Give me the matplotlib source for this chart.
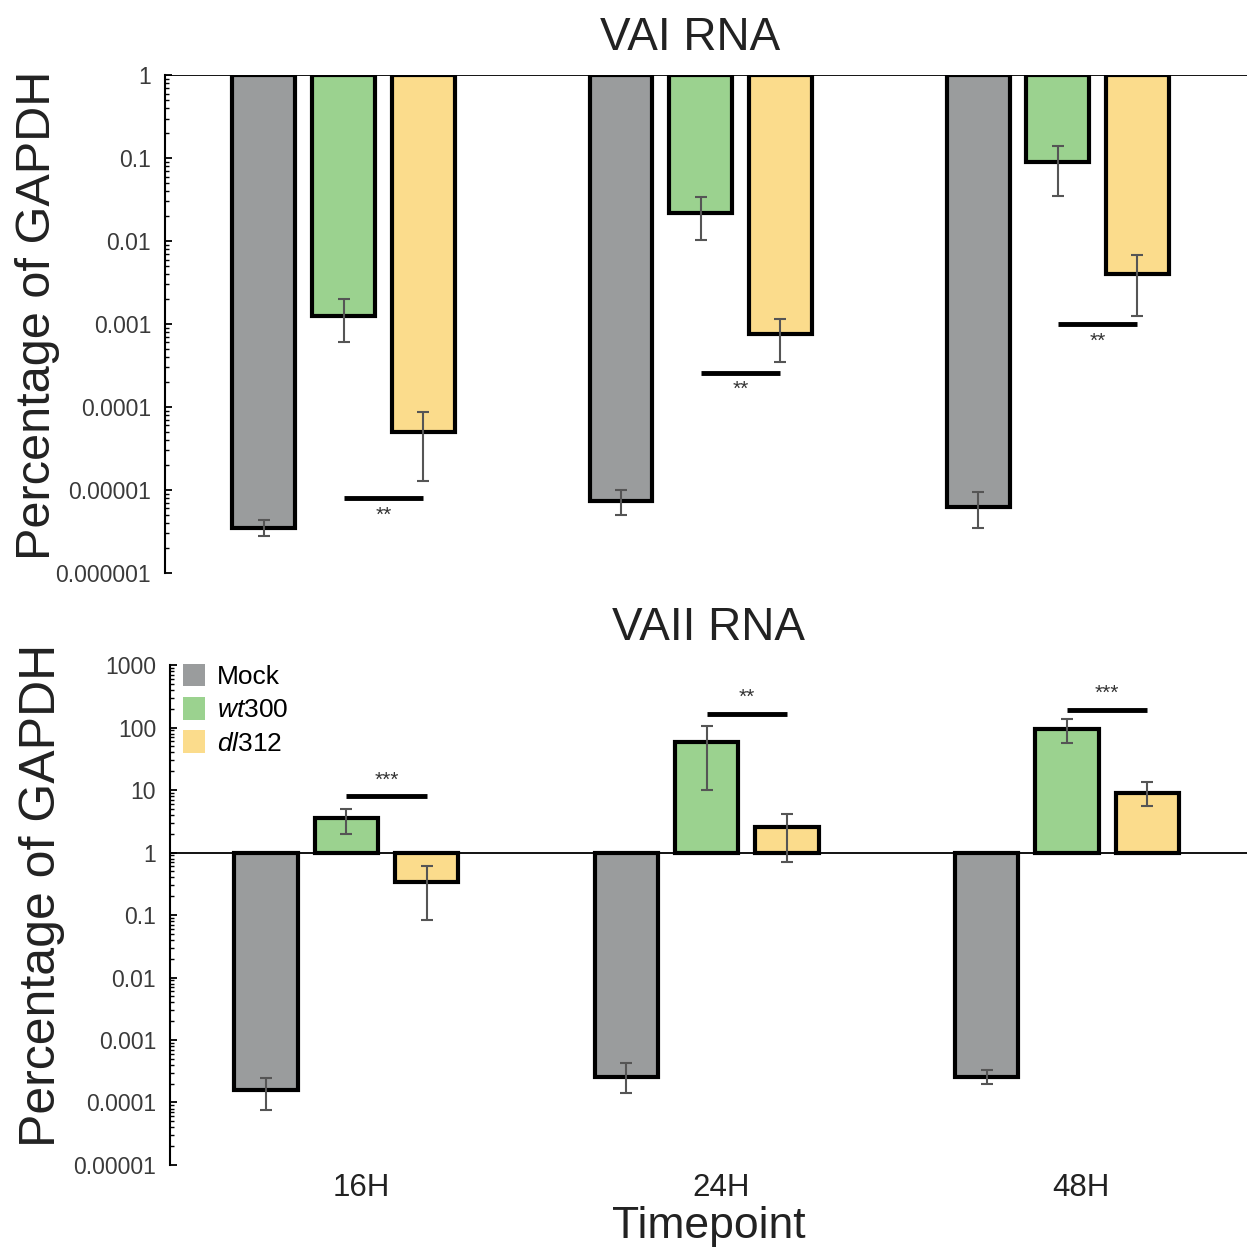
import matplotlib
matplotlib.use("Agg")
import matplotlib.pyplot as plt
from matplotlib.patches import Patch
import matplotlib.ticker as mticker
import numpy as np

plt.rcParams['font.family'] = ['Liberation Sans', 'DejaVu Sans']
plt.rcParams['mathtext.fontset'] = 'custom'
plt.rcParams['mathtext.rm'] = 'Liberation Sans'
plt.rcParams['mathtext.it'] = 'Liberation Sans:italic'

timepoints = ["16H", "24H", "48H"]
groups = ["Mock", "wt300", "dl312"]
legend_labels = ["Mock", r"$\it{wt}$300", r"$\it{dl}$312"]
colors = ["#9a9c9d", "#9bd28f", "#fbdc8c"]

# VAI RNA (percentage of GAPDH), error bar ends as low / high values
vai_mean = {"Mock": [3.5e-6, 7.4e-6, 6.3e-6],
            "wt300": [1.26e-3, 0.022, 0.089],
            "dl312": [5e-5, 7.6e-4, 0.004]}
vai_lo = {"Mock": [2.8e-6, 5e-6, 3.5e-6],
          "wt300": [6e-4, 0.0102, 0.035],
          "dl312": [1.3e-5, 3.5e-4, 0.00126]}
vai_hi = {"Mock": [4.3e-6, 1e-5, 9.5e-6],
          "wt300": [2e-3, 0.034, 0.14],
          "dl312": [8.7e-5, 1.15e-3, 0.0068]}
vai_sig = [8e-6, 2.6e-4, 1e-3]
vai_stars = ["**", "**", "**"]

# VAII RNA
vaii_mean = {"Mock": [1.6e-4, 2.6e-4, 2.6e-4],
             "wt300": [3.6, 59, 95],
             "dl312": [0.34, 2.6, 8.9]}
vaii_lo = {"Mock": [7.6e-5, 1.4e-4, 2e-4],
           "wt300": [2.0, 10, 57],
           "dl312": [0.083, 0.7, 5.5]}
vaii_hi = {"Mock": [2.5e-4, 4.3e-4, 3.3e-4],
           "wt300": [5.0, 105, 138],
           "dl312": [0.6, 4.2, 13.5]}
vaii_sig = [7.9, 166, 190]
vaii_stars = ["***", "**", "***"]

offsets = [-0.223, 0.0, 0.223]
width = 0.176
x = np.arange(len(timepoints))
tick_color = "#3a3a3a"
text_color = "#222222"


def draw_panel(ax, mean, lo, hi, sig, stars, ylim, ytick_labels, stars_above):
    ax.set_yscale('log')
    for g, off, c in zip(groups, offsets, colors):
        m = np.array(mean[g])
        ax.bar(x + off, m - 1, bottom=1, width=width, color=c,
               edgecolor='black', linewidth=3, zorder=2)
        yerr = [m - np.array(lo[g]), np.array(hi[g]) - m]
        ax.errorbar(x + off, m, yerr=yerr, fmt='none', ecolor='#555555',
                    elinewidth=1.5, capsize=4, capthick=1.5, zorder=3)
    ax.axhline(1, color='black', linewidth=1.3, zorder=1)
    for i, (s, st) in enumerate(zip(sig, stars)):
        x0, x1 = x[i] + offsets[1], x[i] + offsets[2]
        ax.plot([x0, x1], [s, s], color='black', linewidth=3.5,
                solid_capstyle='butt', zorder=4)
        dy = 5 if stars_above else -19
        ax.annotate(st, xy=((x0 + x1) / 2, s), xytext=(0, dy),
                    textcoords='offset points', ha='center', va='bottom',
                    fontsize=15, color='#333333')
    ax.set_ylim(*ylim)
    ticks = [float(t) for t in ytick_labels]
    ax.set_yticks(ticks)
    ax.set_yticklabels(ytick_labels)
    ax.yaxis.set_minor_locator(mticker.LogLocator(base=10, subs=np.arange(2, 10)))
    ax.yaxis.set_minor_formatter(mticker.NullFormatter())
    ax.tick_params(axis='y', which='major', direction='in', length=5, width=1.3,
                   labelsize=16.5, labelcolor=tick_color, pad=10)
    ax.tick_params(axis='y', which='minor', direction='in', length=3, width=1)
    for sp in ['top', 'right', 'bottom']:
        ax.spines[sp].set_visible(False)
    ax.spines['left'].set_linewidth(1.5)


fig = plt.figure(figsize=(12.47, 12.52), dpi=100)
ax1 = fig.add_axes([0.1323, 0.5423, 0.8677, 0.3977])
ax2 = fig.add_axes([0.1363, 0.0695, 0.8637, 0.3993])

draw_panel(ax1, vai_mean, vai_lo, vai_hi, vai_sig, vai_stars, (1e-6, 1),
           ["1", "0.1", "0.01", "0.001", "0.0001", "0.00001", "0.000001"], False)
ax1.set_xlim(-0.5, 2.53)
ax1.set_xticks([])
ax1.set_title("VAI RNA", fontsize=33, color=text_color, pad=18, x=0.485)
ax1.set_ylabel("Percentage of GAPDH", fontsize=35, color=text_color)
ax1.yaxis.set_label_coords(-0.097, 0.518)

draw_panel(ax2, vaii_mean, vaii_lo, vaii_hi, vaii_sig, vaii_stars, (1e-5, 1000),
           ["1000", "100", "10", "1", "0.1", "0.01", "0.001", "0.0001", "0.00001"], True)
ax2.set_xlim(-0.49, 2.5)
ax2.set_xticks(x + 0.04)
ax2.set_xticklabels(timepoints)
ax2.tick_params(axis='x', length=0, labelsize=22.5, labelcolor=text_color, pad=6)
ax2.set_xlabel("Timepoint", fontsize=32, color=text_color, labelpad=2)
ax2.set_title("VAII RNA", fontsize=33, color=text_color, pad=18)
ax2.set_ylabel("Percentage of GAPDH", fontsize=36, color=text_color)
ax2.yaxis.set_label_coords(-0.097, 0.54)

handles = [Patch(facecolor=c, edgecolor='none') for c in colors]
ax2.legend(handles, legend_labels, loc='upper left', bbox_to_anchor=(-0.005, 1.04),
           frameon=False, fontsize=19, handlelength=0.85, handleheight=0.95,
           handletextpad=0.45, labelspacing=0.3, borderaxespad=0.3)

fig.savefig("out.png", dpi=100)
